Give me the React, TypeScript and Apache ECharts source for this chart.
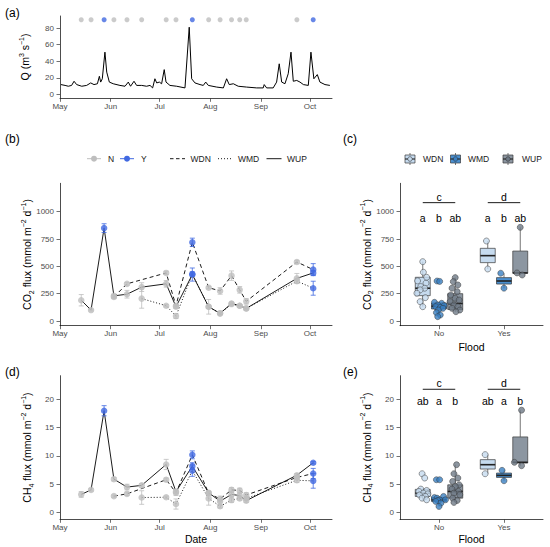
import React, { useEffect, useRef } from "react";
import * as echarts from "echarts";

const FONT = "'Liberation Sans', Arial, Helvetica, sans-serif";
const GREY = "#bebebe";
const BLUE = "#4169e1";
const TICK_COLOR = "#4d4d4d";
const TICK_SIZE = 8;

// ---------------- data ----------------
const monthLabels = ["May", "Jun", "Jul", "Aug", "Sep", "Oct"];
const monthStartDays = [0, 31, 61, 92, 123, 153]; // days since 1 May
const XMAX = 166.5;

const qTicks = [0, 20, 40, 60, 80];
const co2Ticks = [0, 250, 500, 750, 1000];
const ch4Ticks = [0, 5, 10, 15, 20];

// discharge trace (vertices): day since 1 May, Q
const dischargeDays = [0.6, 3.1, 5.1, 7.1, 8.6, 10.2, 13.3, 16.3, 18.8, 20.8, 22.9, 24.1, 24.9, 25.9, 27.5, 28.6, 30.2, 32.6, 36.7, 39.8, 41.8, 43.2, 45.3, 46.9, 50, 53, 55.1, 56.7, 58.1, 59.2, 60.8, 62.2, 63.8, 64.9, 67.3, 71.4, 76.5, 79.1, 80.6, 82.6, 85.7, 87.7, 89.2, 90.8, 95.9, 100, 102, 103.6, 106.1, 109.1, 114.2, 120.4, 124.4, 125, 126.5, 130.5, 132.6, 134.2, 135.7, 137.7, 139.7, 141.4, 142.8, 144.9, 146.9, 149, 152, 153.6, 155.4, 157.5, 159.1, 162.2, 165.2];
const dischargeQ = [12, 11, 10, 11, 16, 12, 10, 11, 14, 12, 13, 22, 15, 19, 51, 27, 15, 13, 11, 10, 15, 10, 16, 11, 11, 10, 11, 8, 19, 14, 15, 13, 30, 15, 11, 10, 8, 81, 19, 14, 12, 11, 15, 11, 9, 8, 19, 12, 13, 10, 9, 8, 8, 12, 8, 8, 15, 37, 15, 13, 25, 51, 16, 17, 15, 12, 11, 51, 19, 24, 15, 12, 11];
const sampleMarkQ = 90;

const sampleDays = [13, 19, 27, 33, 41, 50, 65, 71, 81, 91, 98, 105, 110, 114, 145, 155];
const sampleFlood = [0, 0, 1, 0, 0, 0, 0, 0, 1, 0, 0, 0, 0, 0, 0, 1];

// CO2 flux time series (null = not sampled)
const co2WDN = [null, null, null, 220, 340, null, 440, 140, 720, 305, 275, 415, 285, 180, 540, 470];
const co2WDNerr = [0, 0, 0, 15, 12, 0, 15, 12, 38, 10, 30, 43, 30, 25, 15, 55];
const co2WMD = [null, null, null, null, null, 205, 140, 45, 430, 130, 70, 155, 140, 115, 365, 300];
const co2WMDerr = [0, 0, 0, 0, 0, 88, 10, 22, 20, 67, 12, 10, 10, 10, 20, 64];
const co2WUP = [190, 100, 850, 230, 245, 310, 340, 130, 425, 130, 70, 160, 140, 115, 390, 440];
const co2WUPerr = [52, 8, 40, 15, 35, 40, 30, 15, 60, 15, 10, 12, 10, 12, 45, 20];

// CH4 flux time series
const ch4WDN = [null, null, null, 2.9, 3.3, null, 5.8, 3.5, 10.2, 3.4, 2.4, 4.0, 3.9, 3.1, 6.2, 6.9];
const ch4WDNerr = [0, 0, 0, 0.2, 0.3, 0, 0.3, 0.5, 0.7, 0.3, 0.5, 0.4, 0.4, 0.4, 0.3, 0.9];
const ch4WMD = [null, null, null, null, null, 2.65, 2.7, 1.5, 7.4, 2.5, 1.1, 2.2, 2.5, 2.5, 5.7, 5.6];
const ch4WMDerr = [0, 0, 0, 0, 0, 1.2, 0.2, 0.9, 1.0, 1.2, 0.3, 0.4, 0.3, 0.3, 0.4, 1.3];
const ch4WUP = [3.2, 4.0, 18.0, 5.9, 4.5, 4.8, 8.5, 3.7, 8.2, 3.5, 2.0, 3.2, 3.0, 2.1, 6.6, 8.8];
const ch4WUPerr = [0.5, 0.2, 0.9, 0.3, 0.5, 0.3, 0.9, 0.3, 0.6, 0.3, 0.3, 0.4, 0.4, 0.3, 0.3, 0.2];

// box plots: [min, Q1, median, Q3, max] for [No, Yes]
const floodGroups = ["No", "Yes"];
const siteNames = ["WDN", "WMD", "WUP"];
const co2BoxWDN = [[131, 232, 300, 400, 543], [476, 534, 598, 665, 732]];
const co2BoxWMD = [[40, 110, 135, 165, 171], [300, 338, 366, 397, 437]];
const co2BoxWUP = [[85, 105, 160, 250, 397], [421, 437, 440, 640, 857]];
const ch4BoxWDN = [[2.25, 2.84, 3.43, 4.1, 4.14], [6.86, 7.69, 8.46, 9.35, 10.24]];
const ch4BoxWMD = [[1.07, 1.95, 2.25, 2.66, 2.84], [5.62, 6.21, 6.57, 6.98, 7.46]];
const ch4BoxWUP = [[1.78, 2.54, 3.73, 4.9, 8.46], [8.28, 8.76, 8.88, 13.37, 18.1]];

// individual points on the box plots and their horizontal jitter
const co2PtsWDN = [[543, 446, 400, 367, 346, 315, 300, 285, 254, 214, 177, 131], [732, 476]];
const co2JitWDN = [[0, 0.01, 0.06, -0.08, 0.05, -0.03, 0.03, -0.04, -0.09, 0.04, -0.04, 0], [-0.02, 0]];
const co2PtsWMD = [[366, 362, 171, 162, 147, 140, 131, 125, 116, 100, 76, 55, 40], [437, 300]];
const co2JitWMD = [[-0.03, 0.01, -0.07, 0.04, -0.02, 0.08, -0.05, 0.02, 0.06, -0.01, -0.04, 0.02, -0.02], [-0.05, 0]];
const co2PtsWUP = [[397, 360, 330, 300, 268, 238, 208, 192, 177, 147, 131, 116, 100, 85], [857, 440, 421]];
const co2JitWUP = [[0, -0.03, 0.04, -0.05, 0.03, -0.07, 0, 0.06, -0.08, -0.02, 0.04, -0.05, 0.07, 0.01], [0, -0.05, 0.03]];
const ch4PtsWDN = [[6.86, 6.1, 4.14, 3.9, 3.73, 3.43, 3.3, 3.1, 2.84, 2.54, 2.25], [10.24, 6.86]];
const ch4JitWDN = [[-0.01, 0.03, -0.03, 0.06, -0.06, 0.01, 0.08, -0.05, 0.04, -0.01, 0.06], [-0.04, -0.04]];
const ch4PtsWMD = [[5.8, 5.8, 2.84, 2.66, 2.54, 2.25, 2.25, 2.13, 1.95, 1.66, 1.07], [7.46, 5.62]];
const ch4JitWMD = [[-0.04, 0.01, 0.07, -0.07, -0.03, 0.01, 0.1, -0.02, -0.05, 0.03, 0], [-0.03, 0]];
const ch4PtsWUP = [[8.46, 6.86, 6.1, 5.5, 4.9, 4.6, 4.14, 3.73, 3.43, 3.14, 2.54, 2.13, 1.78], [18.1, 8.88, 8.28]];
const ch4JitWUP = [[0.02, -0.02, 0.04, -0.04, 0.06, 0, -0.05, 0.05, -0.02, 0.07, -0.04, 0.03, -0.02], [0.02, -0.09, 0.02]];

// significance letters
const co2GroupLetters = ["c", "d"];
const co2SiteLetters = [["a", "b", "ab"], ["a", "b", "ab"]];
const ch4GroupLetters = ["c", "d"];
const ch4SiteLetters = [["ab", "a", "b"], ["ab", "a", "b"]];
const co2LetterY = { group: 1138, bracket: 1083, site: 940 };
const ch4LetterY = { group: 22.9, bracket: 21.8, site: 19.8 };

// ---------------- styles ----------------
const dodge = [-0.25, 0, 0.25];
const BOX_W = 0.23;
const boxFill = ["#c6dbef", "#4a8fcf", "#8c96a1"];
const ptFill = ["#c6dbef", "#3a7fc2", "#6f7a87"];
const AXIS_W = 0.7;

function timeX(gridIndex: number) {
  return {
    type: "value", gridIndex, min: 0, max: XMAX,
    axisLine: { show: true, onZero: false, lineStyle: { color: "#000", width: AXIS_W } },
    axisTick: { show: true, length: 3.5, lineStyle: { color: "#333", width: AXIS_W }, customValues: monthStartDays },
    axisLabel: {
      fontSize: TICK_SIZE, color: TICK_COLOR, fontFamily: FONT, margin: 4, customValues: monthStartDays,
      formatter: (v: number) => { const i = monthStartDays.indexOf(v); return i >= 0 ? monthLabels[i] : ""; },
    },
    splitLine: { show: false },
  };
}
function floodX(gridIndex: number) {
  return {
    type: "value", gridIndex, min: 0.4, max: 2.6,
    axisLine: { show: true, onZero: false, lineStyle: { color: "#000", width: AXIS_W } },
    axisTick: { show: true, length: 3.5, lineStyle: { color: "#333", width: AXIS_W }, customValues: [1, 2] },
    axisLabel: {
      fontSize: TICK_SIZE, color: TICK_COLOR, fontFamily: FONT, margin: 4, customValues: [1, 2],
      formatter: (v: number) => floodGroups[Math.round(v) - 1] || "",
    },
    splitLine: { show: false },
  };
}
function yAx(gridIndex: number, min: number, max: number, ticks: number[]) {
  return {
    type: "value", gridIndex, min, max,
    axisLine: { show: true, onZero: false, lineStyle: { color: "#000", width: AXIS_W } },
    axisTick: { show: true, length: 3.5, lineStyle: { color: "#333", width: AXIS_W }, customValues: ticks },
    axisLabel: { fontSize: TICK_SIZE, color: TICK_COLOR, fontFamily: FONT, margin: 6, customValues: ticks,
      formatter: (v: number) => String(v) },
    splitLine: { show: false },
  };
}

const errRender = (params: any, api: any) => {
  const x = api.value(0);
  const p1 = api.coord([x, api.value(1)]);
  const p2 = api.coord([x, api.value(2)]);
  const color = api.value(3) ? BLUE : GREY;
  const hw = 2.5;
  const st = { stroke: color, lineWidth: 0.8 };
  return {
    type: "group",
    children: [
      { type: "line", shape: { x1: p1[0], y1: p1[1], x2: p2[0], y2: p2[1] }, style: st },
      { type: "line", shape: { x1: p1[0] - hw, y1: p1[1], x2: p1[0] + hw, y2: p1[1] }, style: st },
      { type: "line", shape: { x1: p2[0] - hw, y1: p2[1], x2: p2[0] + hw, y2: p2[1] }, style: st },
    ],
  };
};

function tsSeries(grid: number, values: (number | null)[], errs: number[], dash: any) {
  const lines: number[][] = [];
  const pts: any[] = [];
  const bars: number[][] = [];
  values.forEach((v, i) => {
    if (v == null) return;
    const d = sampleDays[i];
    const f = sampleFlood[i];
    lines.push([d, v]);
    pts.push({ value: [d, v], itemStyle: { color: f ? BLUE : GREY } });
    bars.push([d, v - errs[i], v + errs[i], f]);
  });
  return [
    { type: "line", xAxisIndex: grid, yAxisIndex: grid, data: lines, symbol: "none", silent: true, z: 2,
      lineStyle: { color: "#000", width: 0.9, type: dash } },
    { type: "custom", xAxisIndex: grid, yAxisIndex: grid, data: bars, renderItem: errRender,
      encode: { x: 0, y: [1, 2] }, silent: true, z: 3 },
    { type: "scatter", xAxisIndex: grid, yAxisIndex: grid, data: pts, symbolSize: 6.5, silent: true, z: 4 },
  ];
}

function boxRender(fill: string) {
  return (params: any, api: any) => {
    const x = api.value(0);
    const c = (v: number) => api.coord([x, v]);
    const pMin = c(api.value(1)), pQ1 = c(api.value(2)), pMed = c(api.value(3)), pQ3 = c(api.value(4)), pMax = c(api.value(5));
    const w = api.size([BOX_W, 0])[0];
    const cx = pMed[0];
    const stroke = "#3a3a3a";
    return {
      type: "group",
      children: [
        { type: "line", shape: { x1: cx, y1: pMax[1], x2: cx, y2: pQ3[1] }, style: { stroke, lineWidth: 0.7 } },
        { type: "line", shape: { x1: cx, y1: pQ1[1], x2: cx, y2: pMin[1] }, style: { stroke, lineWidth: 0.7 } },
        { type: "rect", shape: { x: cx - w / 2, y: pQ3[1], width: w, height: pQ1[1] - pQ3[1] }, style: { fill, stroke, lineWidth: 0.7 } },
        { type: "line", shape: { x1: cx - w / 2, y1: pMed[1], x2: cx + w / 2, y2: pMed[1] }, style: { stroke: "#222", lineWidth: 1.6 } },
      ],
    };
  };
}

function boxSeries(grid: number, boxes: number[][][], pts: number[][][], jit: number[][][]) {
  const out: any[] = [];
  for (let s = 0; s < 3; s++) {
    out.push({
      type: "custom", xAxisIndex: grid, yAxisIndex: grid, silent: true, z: 3,
      data: boxes[s].map((b, g) => [g + 1 + dodge[s], ...b]),
      encode: { x: 0, y: [1, 2, 3, 4, 5] },
      renderItem: boxRender(boxFill[s]),
    });
  }
  for (let s = 0; s < 3; s++) {
    const data: number[][] = [];
    pts[s].forEach((arr, g) => arr.forEach((v, i) => data.push([g + 1 + dodge[s] + jit[s][g][i], v])));
    out.push({
      type: "scatter", xAxisIndex: grid, yAxisIndex: grid, silent: true, z: 4, data, symbolSize: 6,
      itemStyle: { color: ptFill[s], borderColor: "#333", borderWidth: 0.6 },
    });
  }
  return out;
}

function textSeries(grid: number, items: any[][], fontSize: number) {
  const texts = items.map((it) => it[2]);
  return {
    type: "custom", xAxisIndex: grid, yAxisIndex: grid, silent: true, z: 5,
    data: items.map((it) => [it[0], it[1]]), encode: { x: 0, y: 1 },
    renderItem: (params: any, api: any) => {
      const p = api.coord([api.value(0), api.value(1)]);
      return { type: "text", x: p[0], y: p[1],
        style: { text: texts[params.dataIndex], fontSize, fontFamily: FONT, fill: "#000", align: "center", verticalAlign: "middle" } };
    },
  };
}
function bracketSeries(grid: number, items: number[][]) {
  return {
    type: "custom", xAxisIndex: grid, yAxisIndex: grid, silent: true, z: 5,
    data: items, encode: { x: [0, 1], y: 2 },
    renderItem: (params: any, api: any) => {
      const p1 = api.coord([api.value(0), api.value(2)]);
      const p2 = api.coord([api.value(1), api.value(2)]);
      return { type: "line", shape: { x1: p1[0], y1: p1[1], x2: p2[0], y2: p2[1] }, style: { stroke: "#000", lineWidth: 0.9 } };
    },
  };
}
function letterItems(groupL: string[], siteL: string[][], ys: any) {
  const items: any[][] = [];
  for (let g = 0; g < 2; g++) {
    items.push([g + 1, ys.group, groupL[g]]);
    for (let s = 0; s < 3; s++) items.push([g + 1 + dodge[s], ys.site, siteL[g][s]]);
  }
  return items;
}
function bracketItems(ys: any) {
  return [0, 1].map((g) => [g + 1 + dodge[0], g + 1 + dodge[2], ys.bracket]);
}

const rich = {
  n: { fontSize: 10.5, fontFamily: FONT, fill: "#000", color: "#000", lineHeight: 15 },
  sup: { fontSize: 7, fontFamily: FONT, fill: "#000", color: "#000", lineHeight: 7.5, verticalAlign: "top" },
  sub: { fontSize: 7, fontFamily: FONT, fill: "#000", color: "#000", lineHeight: 7.5, verticalAlign: "bottom" },
};
function vTitle(x: number, y: number, text: string) {
  return { type: "text", x, y, rotation: Math.PI / 2, silent: true,
    style: { text, rich, align: "center", verticalAlign: "middle", fontFamily: FONT, fontSize: 10.5, fill: "#000" } };
}
function hText(x: number, y: number, text: string, size: number, align = "center", color = "#000") {
  return { type: "text", x, y, silent: true,
    style: { text, fontSize: size, fontFamily: FONT, fill: color, align, verticalAlign: "middle" } };
}
const CO2_TITLE = "{n|CO}{sub|2}{n| flux (mmol m}{sup|−2}{n| d}{sup|−1}{n|)}";
const CH4_TITLE = "{n|CH}{sub|4}{n| flux (mmol m}{sup|−2}{n| d}{sup|−1}{n|)}";
const Q_TITLE = "{n|Q (m}{sup|3}{n| s}{sup|−1}{n|)}";

function legendGraphics() {
  const ly = 158.7;
  const g: any[] = [];
  g.push({ type: "line", shape: { x1: 87, y1: ly, x2: 101, y2: ly }, style: { stroke: GREY, lineWidth: 1 } });
  g.push({ type: "circle", shape: { cx: 94, cy: ly, r: 3 }, style: { fill: GREY } });
  g.push(hText(108, ly, "N", 8.5, "left", "#1a1a1a"));
  g.push({ type: "line", shape: { x1: 120, y1: ly, x2: 134, y2: ly }, style: { stroke: BLUE, lineWidth: 1 } });
  g.push({ type: "circle", shape: { cx: 127, cy: ly, r: 3 }, style: { fill: BLUE } });
  g.push(hText(141, ly, "Y", 8.5, "left", "#1a1a1a"));
  const dashes: any[] = [[3.5, 2.5], [1, 2], null];
  const lx = [170, 218, 266.5];
  const tx = [190.5, 238, 287];
  for (let i = 0; i < 3; i++) {
    g.push({ type: "line", shape: { x1: lx[i], y1: ly, x2: lx[i] + 15, y2: ly },
      style: { stroke: "#000", lineWidth: 0.9, lineDash: dashes[i] || undefined } });
    g.push(hText(tx[i], ly, siteNames[i], 8.5, "left", "#1a1a1a"));
  }
  const cy = 159;
  const icx = [410, 455.5, 508];
  const itx = [423, 468, 522];
  for (let i = 0; i < 3; i++) {
    const cx = icx[i];
    g.push({ type: "line", shape: { x1: cx, y1: cy - 6, x2: cx, y2: cy + 6 }, style: { stroke: "#3a3a3a", lineWidth: 0.7 } });
    g.push({ type: "rect", shape: { x: cx - 5, y: cy - 4, width: 10, height: 8 }, style: { fill: boxFill[i], stroke: "#3a3a3a", lineWidth: 0.7 } });
    g.push({ type: "line", shape: { x1: cx - 5, y1: cy, x2: cx + 5, y2: cy }, style: { stroke: "#222", lineWidth: 1.1 } });
    g.push({ type: "circle", shape: { cx, cy, r: 2.3 }, style: { fill: ptFill[i], stroke: "#333", lineWidth: 0.6 } });
    g.push(hText(itx[i], cy, siteNames[i], 8.5, "left", "#1a1a1a"));
  }
  return g;
}

function buildOption() {
  const series: any[] = [];
  // (a)
  series.push({ type: "line", xAxisIndex: 0, yAxisIndex: 0, symbol: "none", silent: true, z: 2,
    data: dischargeDays.map((d, i) => [d, dischargeQ[i]]), lineStyle: { color: "#000", width: 1 } });
  series.push({ type: "scatter", xAxisIndex: 0, yAxisIndex: 0, symbolSize: 5, silent: true, z: 3,
    data: sampleDays.map((d, i) => ({ value: [d, sampleMarkQ], itemStyle: { color: sampleFlood[i] ? BLUE : GREY } })) });
  // (b)
  series.push(...tsSeries(1, co2WDN, co2WDNerr, [4, 3]));
  series.push(...tsSeries(1, co2WMD, co2WMDerr, [1, 2]));
  series.push(...tsSeries(1, co2WUP, co2WUPerr, "solid"));
  // (d)
  series.push(...tsSeries(3, ch4WDN, ch4WDNerr, [4, 3]));
  series.push(...tsSeries(3, ch4WMD, ch4WMDerr, [1, 2]));
  series.push(...tsSeries(3, ch4WUP, ch4WUPerr, "solid"));
  // (c)
  series.push(...boxSeries(2, [co2BoxWDN, co2BoxWMD, co2BoxWUP], [co2PtsWDN, co2PtsWMD, co2PtsWUP], [co2JitWDN, co2JitWMD, co2JitWUP]));
  series.push(textSeries(2, letterItems(co2GroupLetters, co2SiteLetters, co2LetterY), 10.5));
  series.push(bracketSeries(2, bracketItems(co2LetterY)));
  // (e)
  series.push(...boxSeries(4, [ch4BoxWDN, ch4BoxWMD, ch4BoxWUP], [ch4PtsWDN, ch4PtsWMD, ch4PtsWUP], [ch4JitWDN, ch4JitWMD, ch4JitWUP]));
  series.push(textSeries(4, letterItems(ch4GroupLetters, ch4SiteLetters, ch4LetterY), 10.5));
  series.push(bracketSeries(4, bracketItems(ch4LetterY)));

  const graphic: any[] = [
    hText(5, 13, "(a)", 12, "left"),
    hText(5, 139, "(b)", 12, "left"),
    hText(343, 139, "(c)", 12, "left"),
    hText(5, 371.5, "(d)", 12, "left"),
    hText(343, 371.5, "(e)", 12, "left"),
    vTitle(25, 57, Q_TITLE),
    vTitle(27, 254.5, CO2_TITLE),
    vTitle(366.7, 254.5, CO2_TITLE),
    vTitle(27, 447.5, CH4_TITLE),
    vTitle(366.7, 447.5, CH4_TITLE),
    hText(196, 539.3, "Date", 10.5),
    hText(471.5, 346.7, "Flood", 10.5),
    hText(471.5, 539.3, "Flood", 10.5),
    ...legendGraphics(),
  ];

  return {
    animation: false,
    backgroundColor: "#fff",
    textStyle: { fontFamily: FONT },
    grid: [
      { left: 60, top: 16, width: 272, height: 82.3 },
      { left: 60, top: 183.3, width: 272, height: 142.4 },
      { left: 400, top: 183.3, width: 143, height: 142.4 },
      { left: 60, top: 375.7, width: 272, height: 143.6 },
      { left: 400, top: 375.7, width: 143, height: 143.6 },
    ],
    xAxis: [timeX(0), timeX(1), floodX(2), timeX(3), floodX(4)],
    yAxis: [
      yAx(0, -4.5, 94.5, qTicks),
      yAx(1, -43, 1260, co2Ticks),
      yAx(2, -43, 1260, co2Ticks),
      yAx(3, -1.2, 24.2, ch4Ticks),
      yAx(4, -1.2, 24.2, ch4Ticks),
    ],
    series,
    graphic,
  };
}

export default function App() {
  const ref = useRef<HTMLDivElement>(null);
  useEffect(() => {
    const chart = echarts.init(ref.current as HTMLDivElement, null, { renderer: "svg" });
    chart.setOption(buildOption() as any);
    return () => chart.dispose();
  }, []);
  return <div ref={ref} style={{ position: "absolute", left: 0, top: 0, width: 550, height: 547 }} />;
}
